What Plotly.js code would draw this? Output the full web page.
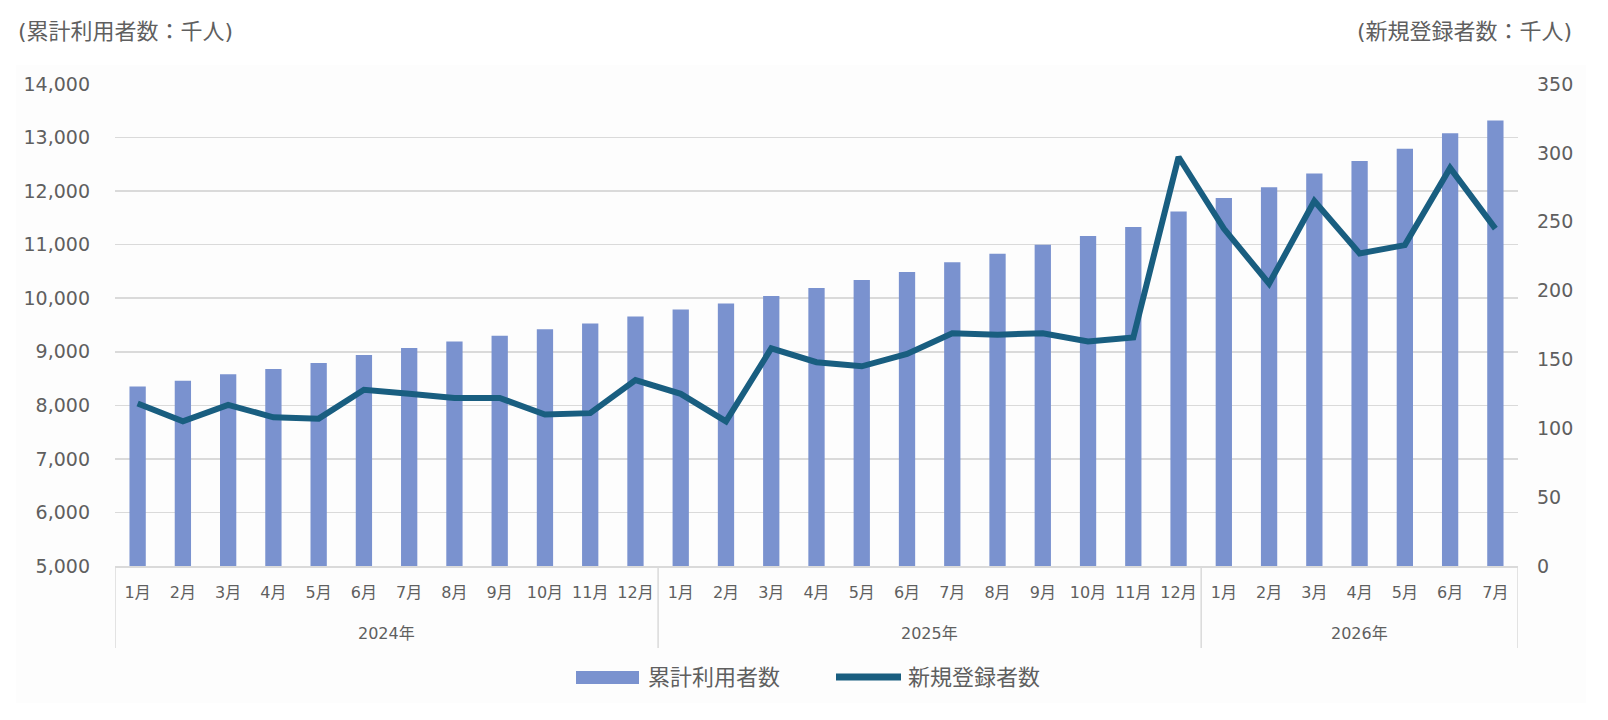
<!DOCTYPE html>
<html>
<head>
<meta charset="utf-8">
<script src="https://cdn.plot.ly/plotly-3.0.1.min.js"></script>
<style>html,body{margin:0;padding:0;background:#fff;}#chart{width:1608px;height:720px;}</style>
</head>
<body>
<div id="chart"></div>
<script>
// ---- data ----
var yearLabels = ['2024年','2025年','2026年'];
var years = ['2024年','2024年','2024年','2024年','2024年','2024年','2024年','2024年','2024年','2024年','2024年','2024年',
             '2025年','2025年','2025年','2025年','2025年','2025年','2025年','2025年','2025年','2025年','2025年','2025年',
             '2026年','2026年','2026年','2026年','2026年','2026年','2026年'];
var months = ['1月','2月','3月','4月','5月','6月','7月','8月','9月','10月','11月','12月',
              '1月','2月','3月','4月','5月','6月','7月','8月','9月','10月','11月','12月',
              '1月','2月','3月','4月','5月','6月','7月'];
var cumulativeUsers = [8350,8460,8580,8680,8790,8940,9070,9190,9300,9420,9530,9660,
                       9790,9900,10040,10190,10340,10490,10670,10830,11000,11160,11330,11620,
                       11870,12070,12330,12560,12790,13080,13320];
var newRegistrations = [118,105,117,108,107,128,125,122,122,110,111,135,
                        125,105,158,148,145,154,169,168,169,163,166,297,
                        245,205,265,227,233,289,245];
var leftTicks = [5000,6000,7000,8000,9000,10000,11000,12000,13000,14000];
var rightTicks = [0,50,100,150,200,250,300,350];
var seriesNames = ['累計利用者数','新規登録者数'];
var axisTitles = ['(累計利用者数：千人)','(新規登録者数：千人)'];

// ---- layout constants ----
var W = 1608, H = 720;
var L = 115, R = 1518, T = 84, B = 566;
var pw = R - L, ph = B - T;
function px(x){ return (x - L) / pw; }
function py(y){ return (B - y) / ph; }

var FONT = 'DejaVu Sans, "Noto Sans CJK JP", sans-serif';
var TXT = '#5f5f5f';
var GRID = '#dadada';
var BAR = '#7a92cf';
var LINE = '#195e80';

// category positions (index of each month)
var idx = months.map(function(m, i){ return i; });

// year groups derived from the years array
var groups = yearLabels.map(function(yl){
  var first = years.indexOf(yl), last = years.lastIndexOf(yl);
  return {label: yl, first: first, last: last};
});

var traces = [
  {
    type: 'bar',
    name: seriesNames[0],
    x: idx,
    y: cumulativeUsers,
    customdata: years,
    marker: {color: BAR, line: {width: 0}},
    yaxis: 'y',
    hoverinfo: 'y'
  },
  {
    type: 'scatter',
    mode: 'lines',
    name: seriesNames[1],
    x: idx,
    y: newRegistrations,
    line: {color: LINE, width: 6},
    yaxis: 'y2',
    hoverinfo: 'y'
  }
];

var shapes = [{
  type: 'rect', xref: 'paper', yref: 'paper', layer: 'below',
  x0: px(16), x1: px(1586), y0: py(703), y1: py(65),
  fillcolor: '#fdfdfd', line: {width: 0}
}];
var annotations = [
  {xref: 'paper', yref: 'paper', x: px(16), y: py(32), xanchor: 'left', yanchor: 'middle',
   text: axisTitles[0], showarrow: false, font: {size: 22, color: TXT, family: FONT}},
  {xref: 'paper', yref: 'paper', x: px(1574), y: py(32), xanchor: 'right', yanchor: 'middle',
   text: axisTitles[1], showarrow: false, font: {size: 22, color: TXT, family: FONT}}
];

// dividers and year labels
groups.forEach(function(g, gi){
  if (gi === 0) {
    shapes.push({type: 'line', xref: 'x', yref: 'paper', x0: g.first - 0.5, x1: g.first - 0.5,
                 y0: py(566), y1: py(648), line: {color: GRID, width: 1.5}});
  }
  shapes.push({type: 'line', xref: 'x', yref: 'paper', x0: g.last + 0.5, x1: g.last + 0.5,
               y0: py(566), y1: py(648), line: {color: GRID, width: 1.5}});
  annotations.push({xref: 'x', yref: 'paper', x: (g.first + g.last) / 2, y: py(633),
                    xanchor: 'center', yanchor: 'middle', showarrow: false, text: g.label,
                    font: {size: 16, color: TXT, family: FONT}});
});

// custom legend
shapes.push({type: 'rect', xref: 'paper', yref: 'paper', x0: px(576), x1: px(639), y0: py(684), y1: py(671),
             fillcolor: BAR, line: {width: 0}});
shapes.push({type: 'line', xref: 'paper', yref: 'paper', x0: px(836), x1: px(901), y0: py(677), y1: py(677),
             line: {color: LINE, width: 7}});
annotations.push({xref: 'paper', yref: 'paper', x: px(646), y: py(677), xanchor: 'left', yanchor: 'middle',
                  text: seriesNames[0], showarrow: false, font: {size: 22, color: TXT, family: FONT}});
annotations.push({xref: 'paper', yref: 'paper', x: px(906), y: py(677), xanchor: 'left', yanchor: 'middle',
                  text: seriesNames[1], showarrow: false, font: {size: 22, color: TXT, family: FONT}});

var layout = {
  width: W, height: H,
  margin: {l: L, r: W - R, t: T, b: H - B, pad: 0},
  paper_bgcolor: '#ffffff',
  plot_bgcolor: 'rgba(0,0,0,0)',
  font: {family: FONT, color: TXT},
  bargap: 0.64,
  showlegend: false,
  xaxis: {
    range: [-0.5, months.length - 0.5],
    tickmode: 'array', tickvals: idx, ticktext: months,
    showline: true, linecolor: GRID, linewidth: 1.5,
    showgrid: false, zeroline: false,
    ticks: '',
    tickfont: {size: 16, color: TXT, family: FONT},
    ticklabelstandoff: 11
  },
  yaxis: {
    range: [leftTicks[0], leftTicks[leftTicks.length - 1]],
    tickvals: leftTicks,
    tickformat: ',d',
    showgrid: true, gridcolor: GRID, gridwidth: 1.5,
    zeroline: false, showline: false, ticks: '',
    tickfont: {size: 19, color: TXT, family: FONT},
    ticklabelstandoff: 24
  },
  yaxis2: {
    overlaying: 'y', side: 'right',
    range: [rightTicks[0], rightTicks[rightTicks.length - 1]],
    tickvals: rightTicks,
    showgrid: false, zeroline: false, showline: false, ticks: '',
    tickfont: {size: 19, color: TXT, family: FONT},
    ticklabelstandoff: 18
  },
  shapes: shapes,
  annotations: annotations
};

Plotly.newPlot('chart', traces, layout, {displayModeBar: false, staticPlot: true});
</script>
</body>
</html>
